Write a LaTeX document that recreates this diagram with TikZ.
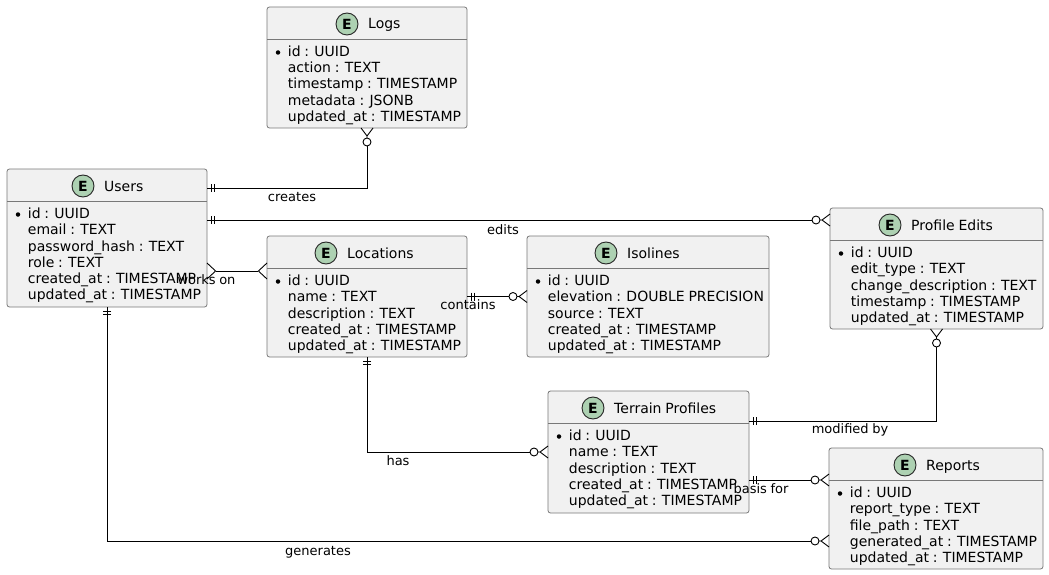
\documentclass[tikz,border=0pt]{standalone}
\usepackage{fontspec}
\setmainfont[WordSpace=0.85]{DejaVu Sans}
\usetikzlibrary{arrows.meta,calc}
\definecolor{boxfill}{HTML}{F1F1F1}
\definecolor{boxline}{HTML}{787878}
\definecolor{iconfill}{HTML}{ADD1B2}
% ER end markers: tip point lies on the box edge
\pgfdeclarearrow{name=ERone,
  setup code={\pgfarrowssettipend{0pt}\pgfarrowssetlineend{0pt}\pgfarrowssetbackend{-8pt}\pgfarrowssetvisualbackend{-8pt}},
  drawing code={\pgfsetdash{}{0pt}\pgfsetlinewidth{0.9pt}
    \pgfpathmoveto{\pgfpoint{-4pt}{-4pt}}\pgfpathlineto{\pgfpoint{-4pt}{4pt}}
    \pgfpathmoveto{\pgfpoint{-7.3pt}{-4pt}}\pgfpathlineto{\pgfpoint{-7.3pt}{4pt}}
    \pgfusepathqstroke}}
\pgfdeclarearrow{name=ERmany,
  setup code={\pgfarrowssettipend{0pt}\pgfarrowssetlineend{-8.6pt}\pgfarrowssetbackend{-9pt}\pgfarrowssetvisualbackend{-8.6pt}},
  drawing code={\pgfsetdash{}{0pt}\pgfsetlinewidth{0.9pt}
    \pgfpathmoveto{\pgfpoint{0pt}{-8pt}}\pgfpathlineto{\pgfpoint{-8.6pt}{0pt}}\pgfpathlineto{\pgfpoint{0pt}{8pt}}
    \pgfusepathqstroke}}
\pgfdeclarearrow{name=ERzmany,
  setup code={\pgfarrowssettipend{0pt}\pgfarrowssetlineend{-18pt}\pgfarrowssetbackend{-19pt}\pgfarrowssetvisualbackend{-18pt}},
  drawing code={\pgfsetdash{}{0pt}\pgfsetlinewidth{0.9pt}
    \pgfpathmoveto{\pgfpoint{0pt}{-6pt}}\pgfpathlineto{\pgfpoint{-8pt}{0pt}}\pgfpathlineto{\pgfpoint{0pt}{6pt}}
    \pgfpathmoveto{\pgfpoint{-8pt}{0pt}}\pgfpathlineto{\pgfpoint{-10pt}{0pt}}
    \pgfusepathqstroke
    \pgfsetfillcolor{white}
    \pgfpathcircle{\pgfpoint{-14pt}{0pt}}{4pt}\pgfusepathqfillstroke}}
\newcommand{\entbox}[7]{%
  \node[entity box,minimum width={(#4-#2)*1pt},minimum height={(#5-#3)*1pt}] (#1) at ({(#2+#4)/2},{(#3+#5)/2}) {};
  \draw[entity rule] (#1.north west |- 0,{#3+32}) -- (#1.north east |- 0,{#3+32});
  \node[entity icon] (#1-icon) at (#7,{#3+17}) {};
  \node[entity letter] (#1-letter) at (#7,{#3+17}) {E};
  \node[entity text] (#1-title) at ({#7+21},{#3+22}) {#6};
  \def\entx{#2}\def\enty{#3}\entrows{#1}}
\newcommand{\entrows}[2]{%
  \node[entity bullet] (#1-bullet) at ({\entx+11},{\enty+45.5}) {};
  \foreach \rowtext [count=\rowi from 0] in {#2}{
    \node[entity text] (#1-row\rowi) at ({\entx+20.7},{\enty+49.5+\rowi*16.25}) {\rowtext};
  }}
\tikzset{
  entity box/.style={draw=boxline,fill=boxfill,line width=0.8pt,rounded corners=2.5pt,inner sep=0pt,outer sep=0pt},
  entity rule/.style={draw=boxline,line width=0.8pt},
  entity icon/.style={circle,draw=black!85,fill=iconfill,line width=0.9pt,minimum size=22pt,inner sep=0pt},
  entity letter/.style={font=\fontsize{14}{14}\selectfont\bfseries,inner sep=0pt},
  entity text/.style={font=\fontsize{14}{16}\selectfont,anchor=base west,inner sep=0pt},
  entity bullet/.style={circle,fill=black,minimum size=4.5pt,inner sep=0pt},
  rel label/.style={font=\fontsize{13}{15}\selectfont,inner sep=0pt,anchor=base},
  rel/.style={draw=black,line width=1pt},
}
\begin{document}
\begin{tikzpicture}[x=1pt,y=-1pt]
\useasboundingbox (0,0) rectangle (1049,575);
\entbox{logs}{267}{7}{467}{128}{Logs}{347}{{id : UUID},{action : TEXT},{timestamp : TIMESTAMP},{metadata : JSONB},{updated\_at : TIMESTAMP}}
\entbox{users}{7}{169}{207}{307}{Users}{83}{{id : UUID},{email : TEXT},{password\_hash : TEXT},{role : TEXT},{created\_at : TIMESTAMP},{updated\_at : TIMESTAMP}}
\entbox{locations}{267}{236}{467}{357}{Locations}{326}{{id : UUID},{name : TEXT},{description : TEXT},{created\_at : TIMESTAMP},{updated\_at : TIMESTAMP}}
\entbox{isolines}{527}{236}{769}{357}{Isolines}{606}{{id : UUID},{elevation : DOUBLE PRECISION},{source : TEXT},{created\_at : TIMESTAMP},{updated\_at : TIMESTAMP}}
\entbox{edits}{830}{208}{1043}{329}{Profile Edits}{890}{{id : UUID},{edit\_type : TEXT},{change\_description : TEXT},{timestamp : TIMESTAMP},{updated\_at : TIMESTAMP}}
\entbox{terrain}{548}{391}{749}{513}{Terrain Profiles}{593}{{id : UUID},{name : TEXT},{description : TEXT},{created\_at : TIMESTAMP},{updated\_at : TIMESTAMP}}
\entbox{reports}{829}{448}{1043}{569}{Reports}{905}{{id : UUID},{report\_type : TEXT},{file\_path : TEXT},{generated\_at : TIMESTAMP},{updated\_at : TIMESTAMP}}
% connectors
\draw[rel,{ERone}-{ERzmany}] ([yshift=50pt]users.east) -| (logs.south);
\draw[rel,{ERone}-{ERzmany}] ([yshift=18pt]users.east) -- ([yshift=48.5pt]edits.west);
\draw[rel,{ERmany}-{ERmany}] ([yshift=-33pt]users.east) -- ([yshift=25.5pt]locations.west);
\draw[rel,{ERone}-{ERzmany}] (locations.east) -- (isolines.west);
\draw[rel,{ERone}-{ERzmany}] (locations.south) |- (terrain.west);
\draw[rel,{ERone}-{ERzmany}] (users.south) |- ([yshift=-32.5pt]reports.west);
\draw[rel,{ERone}-{ERzmany}] ([yshift=31pt]terrain.east) -| (edits.south);
\draw[rel,{ERone}-{ERzmany}] ([yshift=-28pt]terrain.east) -- ([yshift=28.5pt]reports.west);
% labels
\node[rel label] (l1) at (292,201) {creates};
\node[rel label] (l2) at (503,234) {edits};
\node[rel label] (l3) at (206.5,284) {works on};
\node[rel label] (l4) at (468,309) {contains};
\node[rel label] (l5) at (398,465) {has};
\node[rel label] (l6) at (850,433) {modified by};
\node[rel label] (l7) at (761,493) {basis for};
\node[rel label] (l8) at (318,555) {generates};
\end{tikzpicture}
\end{document}
